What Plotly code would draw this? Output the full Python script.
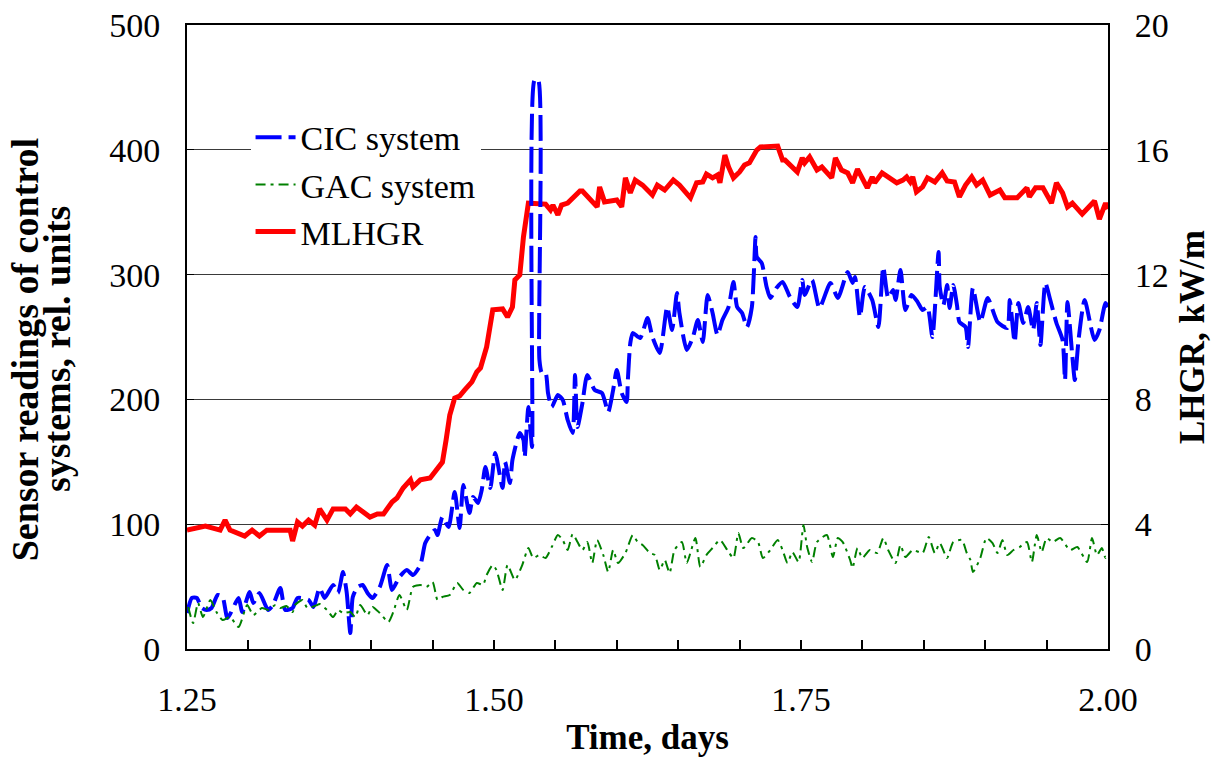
import plotly.graph_objects as go

# ---- CIC system sensor readings (rel. units) ----
cic_t = [1.250, 1.254, 1.258, 1.262, 1.266, 1.270, 1.275, 1.279, 1.283, 1.292, 1.295, 1.301, 1.304, 1.309,
         1.316, 1.320, 1.326, 1.330, 1.336, 1.340, 1.349, 1.353, 1.358, 1.362, 1.369, 1.373, 1.377, 1.380,
         1.383, 1.385, 1.389, 1.393, 1.397, 1.401, 1.407, 1.413, 1.417, 1.423, 1.429, 1.434, 1.440, 1.444,
         1.448, 1.452, 1.454, 1.458, 1.463, 1.468, 1.472, 1.475, 1.480, 1.483, 1.487, 1.490, 1.493, 1.497,
         1.501, 1.507, 1.509, 1.513, 1.515, 1.521, 1.524, 1.525, 1.528, 1.531, 1.533, 1.536, 1.537, 1.539,
         1.542, 1.544, 1.547, 1.552, 1.556, 1.560, 1.564, 1.566, 1.568, 1.572, 1.576, 1.582, 1.588, 1.593,
         1.597, 1.600, 1.604, 1.608, 1.609, 1.611, 1.613, 1.619, 1.625, 1.629, 1.635, 1.641, 1.645, 1.649,
         1.651, 1.657, 1.662, 1.666, 1.670, 1.674, 1.678, 1.682, 1.686, 1.691, 1.695, 1.698, 1.702, 1.706,
         1.710, 1.713, 1.714, 1.718, 1.722, 1.725, 1.730, 1.735, 1.741, 1.747, 1.751, 1.753, 1.759, 1.765,
         1.774, 1.780, 1.788, 1.792, 1.794, 1.798, 1.802, 1.808, 1.813, 1.817, 1.821, 1.825, 1.827, 1.831,
         1.835, 1.840, 1.845, 1.849, 1.853, 1.857, 1.862, 1.863, 1.866, 1.869, 1.871, 1.874, 1.877, 1.879,
         1.884, 1.886, 1.890, 1.896, 1.902, 1.910, 1.918, 1.920, 1.924, 1.927, 1.931, 1.935, 1.939, 1.942,
         1.945, 1.949, 1.953, 1.958, 1.963, 1.965, 1.967, 1.971, 1.973, 1.976, 1.981, 1.989, 1.993, 1.998,
         2.000]
cic_v = [28.8, 40.9, 40.9, 32.9, 31.3, 32.9, 43.3, 41.7, 24.8, 40.9, 29.6, 45.7, 36.9, 44.9,
         31.3, 35.3, 48.9, 31.3, 32.9, 40.9, 39.3, 33.7, 48.9, 40.9, 51.3, 44.9, 61.7, 45.7,
         12.8, 41.7, 49.7, 51.3, 44.9, 40.9, 49.7, 67.3, 47.3, 57.7, 63.3, 59.3, 67.3, 84.9,
         91.3, 95.4, 91.3, 105.8, 97.8, 125.8, 97.0, 131.4, 109.0, 121.8, 117.0, 127.4, 145.8, 129.0,
         157.1, 129.0, 149.8, 133.0, 151.4, 173.1, 167.5, 153.8, 193.9, 161.9, 455.9, 455.9, 231.6, 221.2,
         221.2, 205.1, 193.9, 203.5, 199.5, 183.5, 173.1, 219.6, 177.9, 197.1, 219.6, 207.5, 205.1, 189.9,
         207.5, 223.6, 205.1, 197.9, 215.5, 245.2, 253.2, 249.2, 265.2, 250.0, 237.2, 274.0, 255.6, 285.3,
         269.2, 239.6, 250.0, 263.6, 246.0, 283.7, 269.2, 251.6, 263.6, 274.0, 294.1, 274.0, 269.2, 258.0,
         274.0, 330.1, 314.1, 309.3, 290.1, 281.3, 289.3, 294.1, 282.1, 274.0, 295.7, 283.7, 295.7, 273.2,
         293.3, 281.3, 302.1, 293.3, 298.1, 266.0, 290.1, 279.6, 258.0, 306.1, 281.3, 287.7, 279.6, 303.7,
         271.6, 283.7, 278.0, 271.6, 274.0, 250.0, 318.1, 290.1, 275.6, 291.7, 273.2, 291.7, 275.6, 262.0,
         258.0, 242.0, 289.3, 262.0, 281.3, 262.0, 257.2, 279.6, 246.0, 277.2, 261.2, 274.0, 255.6, 277.2,
         243.6, 293.3, 279.6, 261.2, 247.6, 215.5, 278.0, 234.0, 215.5, 247.6, 279.6, 247.6, 255.6, 277.2,
         274.0]

# ---- GAC system sensor readings (rel. units) ----
gac_t = [1.251, 1.255, 1.259, 1.263, 1.269, 1.274, 1.279, 1.285, 1.292, 1.299, 1.304, 1.311, 1.316, 1.322,
         1.326, 1.331, 1.336, 1.338, 1.344, 1.348, 1.352, 1.356, 1.358, 1.364, 1.369, 1.373, 1.377, 1.383,
         1.387, 1.391, 1.397, 1.401, 1.407, 1.414, 1.418, 1.423, 1.429, 1.434, 1.440, 1.445, 1.450, 1.454,
         1.458, 1.464, 1.470, 1.475, 1.480, 1.486, 1.491, 1.494, 1.499, 1.502, 1.507, 1.511, 1.517, 1.523,
         1.528, 1.532, 1.537, 1.542, 1.547, 1.552, 1.556, 1.560, 1.564, 1.568, 1.572, 1.576, 1.580, 1.584,
         1.589, 1.593, 1.597, 1.601, 1.607, 1.613, 1.617, 1.621, 1.627, 1.631, 1.635, 1.639, 1.643, 1.647,
         1.653, 1.657, 1.664, 1.668, 1.673, 1.678, 1.684, 1.691, 1.695, 1.699, 1.703, 1.710, 1.715, 1.719,
         1.725, 1.731, 1.735, 1.739, 1.743, 1.748, 1.752, 1.755, 1.759, 1.763, 1.771, 1.776, 1.780, 1.784,
         1.790, 1.792, 1.796, 1.800, 1.806, 1.812, 1.817, 1.821, 1.827, 1.831, 1.835, 1.841, 1.849, 1.854,
         1.859, 1.863, 1.869, 1.874, 1.881, 1.885, 1.888, 1.890, 1.896, 1.901, 1.906, 1.910, 1.914, 1.918,
         1.923, 1.928, 1.934, 1.938, 1.942, 1.946, 1.950, 1.955, 1.961, 1.969, 1.975, 1.983, 1.987, 1.991,
         1.995, 1.998, 2.000]
gac_v = [33.7, 20.8, 36.9, 25.6, 39.3, 29.6, 23.2, 25.6, 17.6, 35.3, 27.2, 32.9, 31.3, 35.3,
         32.9, 34.5, 29.6, 35.3, 39.3, 32.9, 33.7, 35.3, 36.1, 31.3, 25.6, 31.3, 28.8, 29.6,
         25.6, 35.3, 27.2, 33.7, 28.8, 21.6, 29.6, 43.3, 31.3, 49.7, 51.3, 49.7, 53.7, 39.3,
         41.7, 43.3, 52.9, 47.3, 44.9, 52.9, 51.3, 59.3, 67.3, 63.3, 47.3, 67.3, 55.3, 67.3,
         80.9, 72.9, 75.3, 72.9, 81.7, 91.3, 87.3, 79.3, 92.1, 85.7, 79.3, 85.7, 68.9, 87.3,
         75.3, 61.7, 79.3, 68.9, 76.9, 91.3, 85.7, 83.3, 76.9, 75.3, 63.3, 71.3, 60.9, 79.3,
         85.7, 68.9, 88.9, 65.7, 75.3, 80.9, 87.3, 77.7, 72.9, 92.9, 80.9, 88.9, 85.7, 72.9,
         79.3, 87.3, 79.3, 68.9, 77.7, 69.7, 99.4, 81.7, 69.7, 85.7, 91.3, 73.7, 88.9, 85.7,
         71.3, 64.9, 80.9, 72.9, 79.3, 76.9, 88.9, 79.3, 68.9, 83.3, 73.7, 79.3, 76.9, 89.7,
         76.9, 84.9, 72.9, 85.7, 87.3, 76.9, 71.3, 61.7, 72.9, 88.9, 84.9, 76.9, 87.3, 75.3,
         79.3, 81.7, 85.7, 69.7, 91.3, 77.7, 88.9, 85.7, 88.9, 79.3, 81.7, 69.7, 88.9, 75.3,
         80.9, 72.9, 76.9]

# ---- MLHGR, kW/m ----
mlhgr_t = [1.250, 1.265, 1.277, 1.281, 1.285, 1.297, 1.303, 1.309, 1.315, 1.334, 1.336, 1.340, 1.344, 1.349,
           1.354, 1.358, 1.364, 1.369, 1.379, 1.383, 1.388, 1.399, 1.405, 1.410, 1.417, 1.421, 1.426, 1.432,
           1.434, 1.440, 1.448, 1.454, 1.458, 1.461, 1.464, 1.468, 1.472, 1.476, 1.479, 1.482, 1.486, 1.489,
           1.494, 1.499, 1.507, 1.511, 1.515, 1.517, 1.521, 1.524, 1.528, 1.542, 1.546, 1.548, 1.552, 1.555,
           1.560, 1.570, 1.572, 1.584, 1.586, 1.590, 1.600, 1.604, 1.607, 1.611, 1.615, 1.621, 1.629, 1.633,
           1.639, 1.646, 1.651, 1.660, 1.665, 1.670, 1.673, 1.678, 1.682, 1.684, 1.688, 1.691, 1.695, 1.700,
           1.704, 1.708, 1.714, 1.717, 1.731, 1.735, 1.737, 1.747, 1.751, 1.753, 1.757, 1.763, 1.767, 1.775,
           1.778, 1.783, 1.788, 1.792, 1.796, 1.804, 1.808, 1.810, 1.816, 1.821, 1.828, 1.833, 1.836, 1.839,
           1.841, 1.844, 1.849, 1.853, 1.859, 1.865, 1.869, 1.875, 1.879, 1.884, 1.889, 1.893, 1.898, 1.904,
           1.912, 1.916, 1.926, 1.934, 1.936, 1.941, 1.947, 1.954, 1.958, 1.963, 1.967, 1.971, 1.979, 1.989,
           1.993, 1.998, 2.000]
mlhgr_v = [3.81, 3.94, 3.81, 4.13, 3.81, 3.62, 3.81, 3.62, 3.81, 3.81, 3.46, 4.07, 3.94, 4.13,
           3.97, 4.49, 4.13, 4.49, 4.49, 4.33, 4.55, 4.23, 4.33, 4.33, 4.71, 4.84, 5.16, 5.42,
           5.19, 5.42, 5.48, 5.80, 5.99, 6.70, 7.50, 8.04, 8.11, 8.30, 8.46, 8.56, 8.88, 9.01,
           9.68, 10.87, 10.90, 10.64, 10.96, 11.83, 11.99, 13.21, 14.29, 14.26, 14.07, 14.23, 13.91, 14.23,
           14.29, 14.68, 14.68, 14.17, 14.81, 14.33, 14.39, 14.17, 15.10, 14.62, 15.03, 14.87, 14.55, 14.87,
           14.71, 15.03, 14.87, 14.46, 14.94, 14.97, 15.22, 15.10, 15.19, 14.94, 15.83, 15.45, 15.10, 15.29,
           15.51, 15.58, 15.99, 16.09, 16.12, 15.67, 15.67, 15.29, 15.74, 15.58, 15.77, 15.35, 15.45, 15.10,
           15.74, 15.35, 15.26, 14.94, 15.38, 14.78, 15.13, 14.94, 15.26, 15.13, 14.94, 15.03, 15.13, 14.97,
           15.13, 14.65, 14.81, 15.10, 14.97, 15.26, 15.00, 14.97, 14.49, 14.87, 15.13, 14.87, 15.03, 14.55,
           14.71, 14.46, 14.46, 14.78, 14.49, 14.78, 14.78, 14.29, 14.94, 14.62, 14.17, 14.29, 13.94, 14.36,
           13.78, 14.29, 14.10]

# ---- axis ticks ----
x_tickvals = [1.25, 1.30, 1.35, 1.40, 1.45, 1.50, 1.55, 1.60, 1.65, 1.70, 1.75, 1.80, 1.85, 1.90, 1.95, 2.00]
x_ticktext = ["1.25", "", "", "", "", "1.50", "", "", "", "", "1.75", "", "", "", "", "2.00"]
left_ticks = [0, 100, 200, 300, 400, 500]
right_ticks = [0, 4, 8, 12, 16, 20]
left_title_lines = ["Sensor readings of control", "systems, rel. units"]

SERIF = "Liberation Serif, Times New Roman, serif"
TICK_FONT = dict(family=SERIF, size=34, color="black")
TITLE_FONT = dict(family=SERIF, size=35, color="black")

fig = go.Figure()

# MLHGR on the primary (right-hand) axis so that it sits beneath the sensor traces
fig.add_trace(go.Scatter(
    x=mlhgr_t, y=mlhgr_v, name="MLHGR", mode="lines", yaxis="y",
    line=dict(color="rgb(255,0,0)", width=5), legendrank=3,
))
fig.add_trace(go.Scatter(
    x=cic_t, y=cic_v, name="CIC system", mode="lines", yaxis="y2",
    line=dict(color="rgb(0,0,255)", width=4, dash="26px,7px", shape="spline", smoothing=0.6),
    legendrank=1,
))
fig.add_trace(go.Scatter(
    x=gac_t, y=gac_v, name="GAC system", mode="lines", yaxis="y2",
    line=dict(color="rgb(0,128,0)", width=2, dash="10px,5px,3px,5px", shape="spline", smoothing=0.6),
    legendrank=2,
))

# two-line left-hand axis title, one rotated annotation per line
for i, line_text in enumerate(left_title_lines):
    fig.add_annotation(
        text=f"<b>{line_text}</b>", textangle=-90,
        xref="paper", yref="paper", x=-0.175 + i * 0.0345, y=0.48,
        xanchor="center", yanchor="middle", showarrow=False,
        font=dict(family=SERIF, size=38, color="black"),
    )

fig.update_layout(
    width=1221, height=760,
    margin=dict(l=187, r=113, t=25, b=111),
    paper_bgcolor="white", plot_bgcolor="white",
    showlegend=True,
    legend=dict(
        x=0.069, y=0.866, xanchor="left", yanchor="top",
        bgcolor="white", borderwidth=0,
        font=dict(family=SERIF, size=34, color="black"),
        tracegroupgap=0, itemwidth=40,
    ),
    xaxis=dict(
        range=[1.25, 2.00], tickmode="array", tickvals=x_tickvals, ticktext=x_ticktext,
        ticks="inside", ticklen=9, tickwidth=1.5, tickcolor="black",
        showline=True, linecolor="black", linewidth=2, mirror=True,
        showgrid=False, zeroline=False, tickfont=TICK_FONT, ticklabelstandoff=19,
        automargin=False,
        title=dict(text="<b>Time, days</b>", font=TITLE_FONT, standoff=8),
    ),
    yaxis=dict(
        range=[0, 20], tickmode="array", tickvals=right_ticks, side="right",
        ticks="inside", ticklen=7, tickcolor="black",
        showline=True, linecolor="black", linewidth=2,
        showgrid=False, zeroline=False, tickfont=TICK_FONT, ticklabelstandoff=18,
        automargin=False,
        title=dict(text="<b>LHGR, kW/m</b>", font=TITLE_FONT, standoff=12),
    ),
    yaxis2=dict(
        range=[0, 500], tickmode="array", tickvals=left_ticks, side="left", overlaying="y",
        ticks="inside", ticklen=7, tickcolor="black",
        showline=True, linecolor="black", linewidth=2,
        showgrid=True, gridcolor="#3a3a3a", gridwidth=1, zeroline=False,
        tickfont=TICK_FONT, ticklabelstandoff=18, automargin=False,
    ),
)

fig.write_html("out.html")
